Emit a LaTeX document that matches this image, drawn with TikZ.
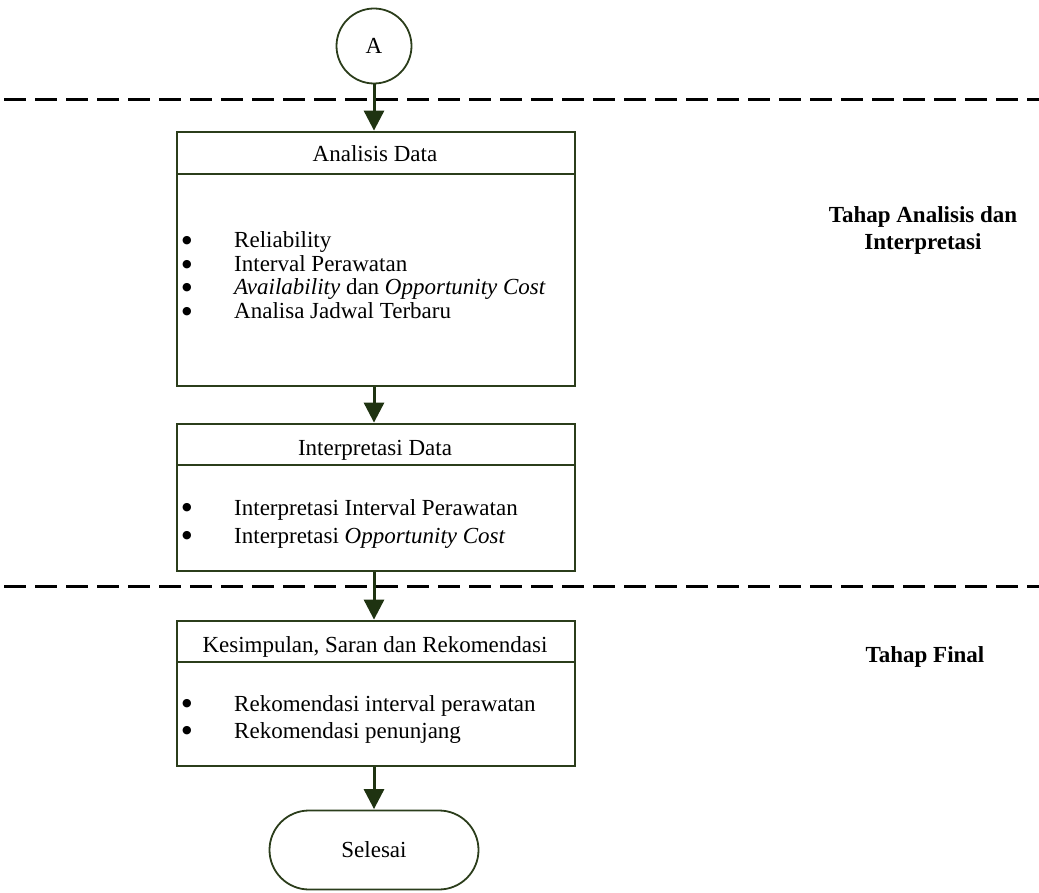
\documentclass[tikz,border=0pt]{standalone}
\usepackage{fontspec}
\setmainfont{Liberation Serif}
\newfontfamily\symfont{DejaVu Sans}
\usetikzlibrary{arrows.meta,shapes.misc,calc}
\definecolor{boxgreen}{HTML}{2B3D1B}
\definecolor{arrowgreen}{HTML}{1F3311}
\begin{document}
\begin{tikzpicture}[x=1pt,y=-1pt,
  every node/.style={font=\fontsize{23}{27}\selectfont, inner sep=0pt},
  flowbox/.style={draw=boxgreen, line width=1.8pt, minimum width=398pt},
  term/.style={draw=boxgreen, line width=1.8pt},
  flowarrow/.style={draw=arrowgreen, line width=3pt, -{Triangle[length=20pt,width=20pt]}, shorten >=0.5pt},
  sepline/.style={draw=black, line width=3pt, dash pattern=on 22pt off 9pt},
  itemtext/.style={anchor=base west},
  headtext/.style={anchor=base},
  bul/.style={anchor=center, font=\symfont\fontsize{11}{11}\selectfont, yshift=7pt},
  stagelabel/.style={anchor=base, font=\bfseries\fontsize{23}{27}\selectfont}
]
\useasboundingbox (0,0) rectangle (1039,893);
% separators
\draw[sepline] (4,100) -- (1039,100);
\draw[sepline] (4,586) -- (1039,586);
% connector A
\node[term, circle, minimum size=75pt] (A) at (374,46) {A};
% box 1
\node[flowbox, minimum height=254pt] (b1) at (376,259) {};
\draw[boxgreen, line width=1.8pt] ($(b1.north west)+(0,43)$) -- ($(b1.north east)+(0,43)$);
\node[headtext] (h1) at (375,162) {Analisis Data};
\node[bul] (u11) at (187,248) {●};
\node[itemtext] (t11) at (234,248) {Reliability};
\node[bul] (u12) at (187,271.5) {●};
\node[itemtext] (t12) at (234,271.5) {Interval Perawatan};
\node[bul] (u13) at (187,295) {●};
\node[itemtext] (t13) at (234,295) {\textit{Availability} dan \textit{Opportunity Cost}};
\node[bul] (u14) at (187,318.5) {●};
\node[itemtext] (t14) at (234,318.5) {Analisa Jadwal Terbaru};
% box 2
\node[flowbox, minimum height=147pt] (b2) at (376,497.5) {};
\draw[boxgreen, line width=1.8pt] ($(b2.north west)+(0,42)$) -- ($(b2.north east)+(0,42)$);
\node[headtext] (h2) at (375,455) {Interpretasi Data};
\node[bul] (u21) at (187,515) {●};
\node[itemtext] (t21) at (234,515) {Interpretasi Interval Perawatan};
\node[bul] (u22) at (187,543) {●};
\node[itemtext] (t22) at (234,543) {Interpretasi \textit{Opportunity Cost}};
% box 3
\node[flowbox, minimum height=145pt] (b3) at (376,693.5) {};
\draw[boxgreen, line width=1.8pt] ($(b3.north west)+(0,42)$) -- ($(b3.north east)+(0,42)$);
\node[headtext] (h3) at (375,652) {Kesimpulan, Saran dan Rekomendasi};
\node[bul] (u31) at (187,711) {●};
\node[itemtext] (t31) at (234,711) {Rekomendasi interval perawatan};
\node[bul] (u32) at (187,738) {●};
\node[itemtext] (t32) at (234,738) {Rekomendasi penunjang};
% terminator
\node[term, rounded rectangle, minimum width=209pt, minimum height=79pt] (end) at (374,850) {Selesai};
% stage labels
\node[stagelabel] (s1a) at (923,223) {Tahap Analisis dan};
\node[stagelabel] (s1b) at (923,250) {Interpretasi};
\node[stagelabel] (s2) at (925,662) {Tahap Final};
% arrows
\draw[flowarrow] (A.south) -- (A.south |- b1.north);
\draw[flowarrow] (A.south |- b1.south) -- (A.south |- b2.north);
\draw[flowarrow] (A.south |- b2.south) -- (A.south |- b3.north);
\draw[flowarrow] (A.south |- b3.south) -- (end.north);
\end{tikzpicture}
\end{document}
